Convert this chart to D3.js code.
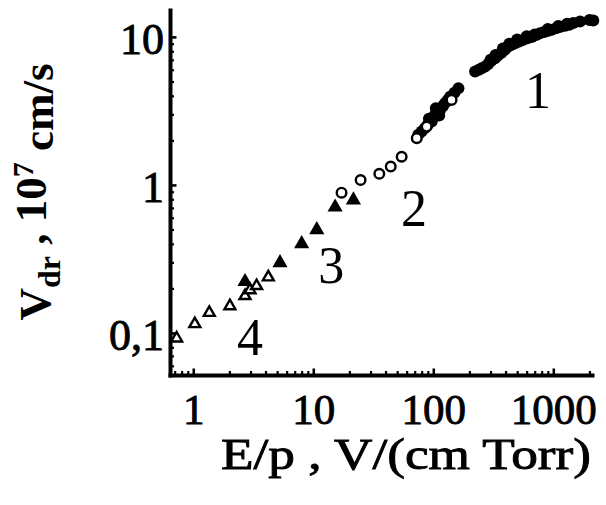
<!DOCTYPE html>
<html><head><meta charset="utf-8">
<script src="https://cdn.jsdelivr.net/npm/d3@7"></script>
<style>
html,body{margin:0;padding:0;background:#fff;}
svg{display:block;}
text{font-family:"Liberation Serif","Times New Roman",serif;fill:#000;}
</style></head>
<body>
<script>
// ---- data ----
const xTickValues = [1, 10, 100, 1000];
const xTickLabels = ["1", "10", "100", "1000"];
const yTickValues = [0.1, 1, 10];
const yTickLabels = ["0,1", "1", "10"];

// series 1: filled circles
const s1x = [75,80,85,90,92,97,100,103,105,108,112,114,120,125,132,138,150,162,
             223,240,253,270,287,300,305,327,330,345,371,380,395,422,430,450,480,500,520,562,600,610,661,700,720,775,840,900,908,980,1067,1100,1150,1253,1300,1360,1468,1671,2000,2154];
const s1y = [2.18,2.3,2.42,2.55,2.8,2.68,2.85,2.97,3.3,3.1,2.95,3.21,3.4,3.57,3.75,3.95,4.2,4.5,
             5.83,6.0,6.14,6.3,6.57,7.0,6.9,7.18,7.55,7.5,7.83,8.35,8.2,8.6,9.0,8.85,9.07,9.6,9.3,9.55,10.1,9.8,10.0,10.4,10.3,10.6,10.8,11.3,11.0,11.2,11.5,11.85,11.7,11.9,12.25,12.1,12.4,12.7,13.0,12.9];
// series 2: open circles
const s2x = [17.2,24.8,35.5,44.2,54.5,72.8,88.1,142];
const s2y = [0.887,1.08,1.19,1.33,1.55,2.07,2.48,3.75];
// series 3: filled triangles
const s3x = [2.70,5.28,8.0,10.7,15.2,21.6];
const s3y = [0.222,0.298,0.40,0.497,0.707,0.79];
// series 4: open triangles
const s4x = [0.727,1.03,1.36,2.02,2.70,2.97,3.37,4.22];
const s4y = [0.092,0.115,0.137,0.152,0.178,0.195,0.208,0.238];
// curve labels (positioned in data coordinates)
const labelText = ["1","2","3","4"];
const labelX = [746, 69, 14.1, 2.97];
const labelY = [4.38, 0.70, 0.288, 0.094];

// ---- layout ----
const W = 606, H = 505;
const x0 = 170, x1 = 592, yTop = 10, yBot = 375;
const x = d3.scaleLog().domain([0.64, 2101]).range([x0, x1]);
const y = d3.scaleLog().domain([0.052, 15.2]).range([yBot, yTop]);

const svg = d3.select("body").append("svg").attr("width", W).attr("height", H);

function minorTicks(domain){
  const out=[];
  for(let e=-3;e<=4;e++){for(let m=2;m<=9;m++){const v=m*Math.pow(10,e); if(v>domain[0]&&v<domain[1]) out.push(v);}}
  return out;
}

// minor ticks
svg.append("g").attr("transform",`translate(0,${yBot})`)
  .call(d3.axisBottom(x).tickValues(minorTicks(x.domain())).tickSizeInner(-4).tickSizeOuter(0).tickFormat(""))
  .call(g=>g.select(".domain").remove())
  .call(g=>g.selectAll("line").attr("stroke","#000").attr("stroke-width",2.2));
svg.append("g").attr("transform",`translate(${x0},0)`)
  .call(d3.axisLeft(y).tickValues(minorTicks(y.domain())).tickSizeInner(-4).tickSizeOuter(0).tickFormat(""))
  .call(g=>g.select(".domain").remove())
  .call(g=>g.selectAll("line").attr("stroke","#000").attr("stroke-width",2.2));

// major axes
const gx = svg.append("g").attr("transform",`translate(0,${yBot})`)
  .call(d3.axisBottom(x).tickValues(xTickValues).tickSizeInner(-6.5).tickSizeOuter(0).tickPadding(18)
        .tickFormat((d,i)=>xTickLabels[i]));
const gy = svg.append("g").attr("transform",`translate(${x0},0)`)
  .call(d3.axisLeft(y).tickValues(yTickValues).tickSizeInner(-6.5).tickSizeOuter(0).tickPadding(6)
        .tickFormat((d,i)=>yTickLabels[i]));
[gx,gy].forEach(g=>{
  g.select(".domain").attr("stroke","#000").attr("stroke-width",4).attr("stroke-linecap","square");
  g.selectAll(".tick line").attr("stroke","#000").attr("stroke-width",2.6);
  g.selectAll(".tick text").attr("font-family","Liberation Serif, Times New Roman, serif")
    .attr("fill","#000").attr("stroke","#000").attr("stroke-width",0.9);
});
gx.selectAll(".tick text").attr("font-size",43);
gy.selectAll(".tick text").attr("font-size",44).attr("dy","0.38em");

// axis titles
svg.append("text").attr("x",406).attr("y",469).attr("text-anchor","middle")
  .attr("font-size",44).attr("stroke","#000").attr("stroke-width",0.9)
  .attr("textLength",370).attr("lengthAdjust","spacingAndGlyphs")
  .text("E/p , V/(cm Torr)");

const yt = svg.append("text").attr("transform","translate(50,192) rotate(-90)")
  .attr("text-anchor","middle").attr("font-size",45).attr("font-weight","bold");
yt.append("tspan").text("V");
yt.append("tspan").attr("dy","0.3em").attr("font-size",32).text("dr");
yt.append("tspan").attr("dy","-0.3em").text(" , 10");
yt.append("tspan").attr("dy","-0.45em").attr("font-size",30).text("7");
yt.append("tspan").attr("dy","0.45em").text(" cm/s");

// ---- marks ----
const d1 = s1x.map((v,i)=>[v,s1y[i]]);
const d2 = s2x.map((v,i)=>[v,s2y[i]]);
const d3s = s3x.map((v,i)=>[v,s3y[i]]);
const d4 = s4x.map((v,i)=>[v,s4y[i]]);

svg.append("g").selectAll("circle").data(d1).join("circle")
  .attr("cx",d=>x(d[0])).attr("cy",d=>y(d[1])).attr("r",6).attr("fill","#000");
svg.append("g").selectAll("circle").data(d2).join("circle")
  .attr("cx",d=>x(d[0])).attr("cy",d=>y(d[1])).attr("r",4.8)
  .attr("fill","#fff").attr("stroke","#000").attr("stroke-width",2.4);
const triF = d3.symbol().type(d3.symbolTriangle).size(100);
const triO = d3.symbol().type(d3.symbolTriangle).size(52);
svg.append("g").selectAll("path").data(d4).join("path")
  .attr("transform",d=>`translate(${x(d[0])},${y(d[1])})`).attr("d",triO)
  .attr("fill","#fff").attr("stroke","#000").attr("stroke-width",2.4);
svg.append("g").selectAll("path").data(d3s).join("path")
  .attr("transform",d=>`translate(${x(d[0])},${y(d[1])})`).attr("d",triF)
  .attr("fill","#000");

// curve labels
svg.append("g").selectAll("text").data(labelText).join("text")
  .attr("x",(d,i)=>x(labelX[i])).attr("y",(d,i)=>y(labelY[i])).attr("dy","0.34em")
  .attr("text-anchor","middle").attr("font-size",52).text(d=>d);
</script>
</body></html>
